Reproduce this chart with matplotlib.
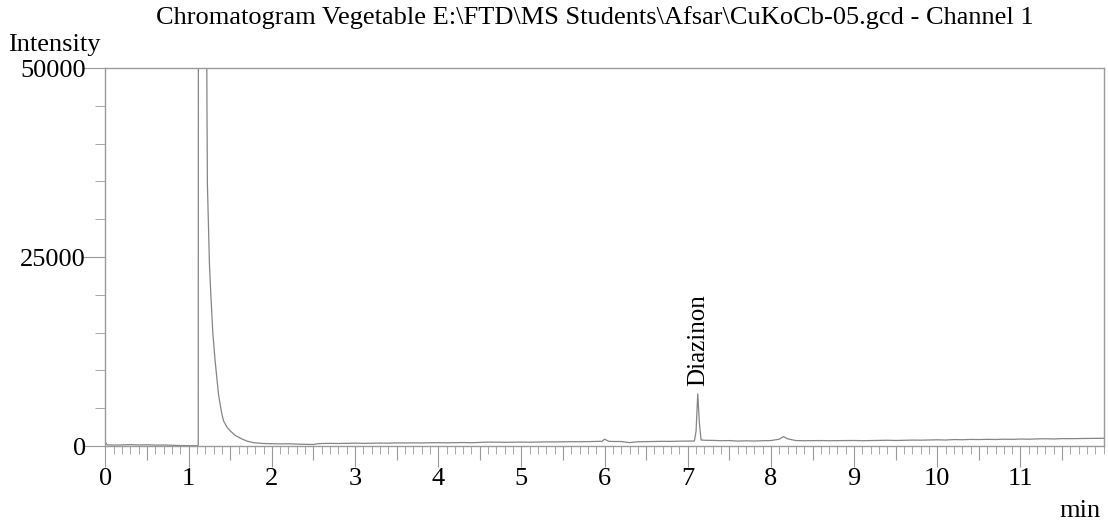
import numpy as np
import matplotlib.pyplot as plt
from matplotlib.ticker import MultipleLocator, FixedLocator

# Retention time (min) and detector response
time_min = [
    0.00, 0.02, 0.10, 0.20, 0.30, 0.40, 0.50, 0.60, 0.70, 0.80, 0.90, 1.00, 1.10,
    1.115, 1.117, 1.215, 1.22, 1.225, 1.25, 1.266, 1.29, 1.318, 1.34, 1.358, 1.38,
    1.40, 1.42, 1.46, 1.50, 1.56, 1.64, 1.70, 1.78, 1.90,
    2.0, 2.1, 2.2, 2.3, 2.4, 2.5, 2.55, 2.6, 2.7, 2.8, 2.9,
    3.0, 3.1, 3.2, 3.3, 3.4, 3.5, 3.6, 3.7, 3.8, 3.9,
    4.0, 4.1, 4.2, 4.3, 4.4, 4.5, 4.6, 4.7, 4.8, 4.9,
    5.0, 5.1, 5.2, 5.3, 5.4, 5.5, 5.6, 5.7, 5.8, 5.9,
    5.97, 6.0, 6.05, 6.1, 6.2, 6.3, 6.35, 6.4, 6.5, 6.6, 6.7, 6.8, 6.9,
    7.0, 7.08, 7.10, 7.12, 7.14, 7.16, 7.2, 7.3, 7.4, 7.5, 7.6, 7.7, 7.8, 7.9,
    8.0, 8.1, 8.15, 8.2, 8.3, 8.4, 8.5, 8.6, 8.7, 8.8, 8.9,
    9.0, 9.1, 9.2, 9.3, 9.4, 9.5, 9.6, 9.7, 9.8, 9.9,
    10.0, 10.1, 10.2, 10.3, 10.4, 10.5, 10.6, 10.7, 10.8, 10.9,
    11.0, 11.1, 11.2, 11.3, 11.4, 11.5, 11.6, 11.7, 11.8, 11.9, 12.0,
]
intensity = [
    500, 150, 120, 150, 180, 140, 160, 120, 130, 90, 60, 40, 30,
    100, 60000, 60000, 45000, 34750, 24000, 20160, 15000, 11270, 8800, 6900, 5400,
    4200, 3300, 2500, 2000, 1400, 930, 650, 440, 330,
    300, 280, 300, 250, 220, 200, 300, 330, 350, 330, 360,
    380, 350, 370, 390, 380, 410, 400, 420, 400, 430,
    440, 420, 440, 460, 430, 470, 520, 500, 490, 510,
    520, 500, 530, 550, 540, 560, 570, 560, 580, 590,
    620, 900, 620, 600, 590, 450, 500, 560, 580, 600, 620, 610, 640,
    650, 660, 2000, 6900, 3000, 800, 760, 740, 700, 720, 650, 690, 660, 700,
    720, 900, 1250, 950, 720, 700, 710, 720, 700, 710, 720,
    730, 700, 720, 740, 760, 730, 760, 780, 770, 800,
    820, 790, 850, 830, 870, 850, 880, 860, 900, 880,
    920, 900, 940, 960, 930, 980, 970, 990, 1000, 1010, 1020,
]

peak_name = "Diazinon"
peak_time = 7.12
peak_height = 7900

plt.rcParams['font.family'] = ['Liberation Serif', 'DejaVu Serif']
gray = '#9a9a9a'

fig = plt.figure(figsize=(11.08, 5.2), dpi=100)
ax = fig.add_axes([0.0952, 0.1423, 0.9009, 0.7269])

ax.plot(time_min, intensity, color='#858585', lw=0.9)

ax.set_xlim(0, 12)
ax.set_ylim(0, 50000)

for s in ax.spines.values():
    s.set_color(gray)
    s.set_linewidth(1.0)

ax.xaxis.set_major_locator(FixedLocator(range(0, 12)))
ax.xaxis.set_minor_locator(MultipleLocator(0.1))
ax.yaxis.set_major_locator(FixedLocator([0, 25000, 50000]))
ax.yaxis.set_minor_locator(MultipleLocator(5000))
ax.tick_params(axis='x', which='major', length=15, color=gray, labelsize=19, pad=1)
ax.tick_params(axis='x', which='minor', length=6, color=gray)
ax.tick_params(axis='y', which='major', length=16, color=gray, labelsize=19, pad=-2)
ax.tick_params(axis='y', which='minor', length=7, color=gray)

# longer ticks at the half minutes
half = ax.secondary_xaxis('bottom')
half.set_xticks([i + 0.5 for i in range(12)])
half.set_xticklabels([])
half.tick_params(length=10, color=gray)
half.spines['bottom'].set_visible(False)

ax.text(peak_time, peak_height, peak_name, rotation=90, ha='center', va='bottom',
        fontsize=18)

fig.text(0.537, 0.966, r"Chromatogram Vegetable E:\FTD\MS Students\Afsar\CuKoCb-05.gcd - Channel 1",
         ha='center', va='center', fontsize=19)
fig.text(0.049, 0.913, "Intensity", ha='center', va='center', fontsize=19)
fig.text(0.993, 0.018, "min", ha='right', va='center', fontsize=19)

fig.savefig("out.png", dpi=100)
